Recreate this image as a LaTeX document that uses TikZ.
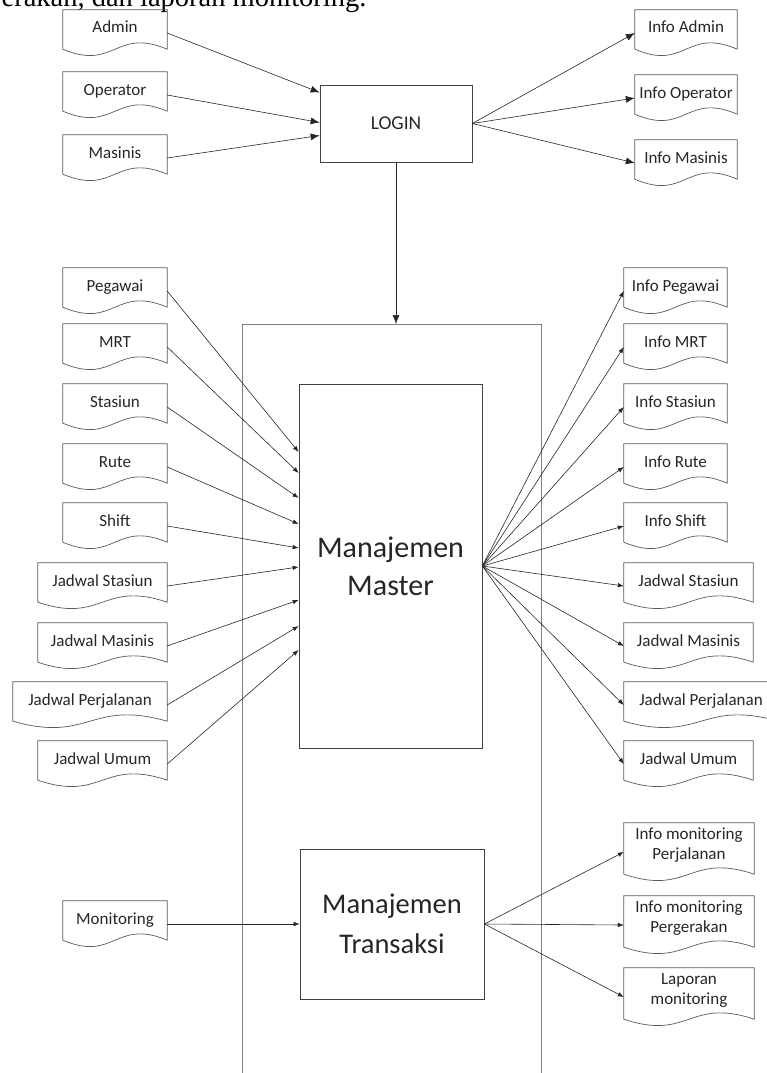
\documentclass[tikz,border=0pt]{standalone}
\usepackage{fontspec}
\setmainfont{Carlito}
\newfontfamily\serifhead{Liberation Serif}
\usetikzlibrary{arrows.meta,calc}

\newcommand\twoline[2]{\begin{tabular}[b]{@{}c@{}}#1\\#2\end{tabular}}

\tikzset{
  doc/.style={rectangle, inner sep=0pt, minimum width=#1, minimum height=46pt,
    text height=6pt, text depth=6pt, text=black!85, font=\fontsize{17}{20}\selectfont},
  doc/.default=104pt,
  doc2/.style={doc=#1, minimum height=58pt, text height=20pt},
  doc2/.default=130pt,
  docline/.style={draw=black!65, line width=0.7pt},
  procbox/.style={draw=black!75, line width=0.7pt, rectangle, inner sep=0pt, align=center,
    text=black!85, font=\fontsize{30}{38}\selectfont},
  flow/.style={draw=black!85, line width=0.6pt, -{Latex[length=6pt,width=4.5pt]}},
  bigflow/.style={flow, -{Latex[length=9pt,width=7pt]}}
}

\begin{document}
\begin{tikzpicture}[x=1pt,y=-1pt]
\useasboundingbox (0,0) rectangle (767,1073);
\clip (0,0) rectangle (767,1073);

\node[anchor=base east, font=\serifhead\fontsize{28.5}{30}\selectfont] (prevline) at (370,7) {erakan, dan laporan monitoring.};

% login
\node[doc] (admin) at (115,33) {Admin};
\node[doc] (operator) at (115,95) {Operator};
\node[doc] (masinis) at (115,158) {Masinis};
\node[procbox, minimum width=152pt, minimum height=77pt, font=\fontsize{19.5}{22}\selectfont] (login) at (396,123.5) {LOGIN};
\node[doc=102pt] (info-admin) at (686,33) {Info Admin};
\node[doc=102pt] (info-operator) at (686,98) {Info Operator};
\node[doc=102pt] (info-masinis) at (686,163) {Info Masinis};

% application frame
\node[draw=black!50, line width=0.7pt, rectangle, inner sep=0pt, minimum width=299pt, minimum height=780pt, anchor=north] (app) at (391.5,324) {};

% master data
\node[doc] (pegawai) at (115,291) {Pegawai};
\node[doc] (mrt) at (115,347) {MRT};
\node[doc] (stasiun) at (115,407) {Stasiun};
\node[doc] (rute) at (115,467) {Rute};
\node[doc] (shift) at (115,526) {Shift};
\node[doc=129pt] (in-jstasiun) at (102.5,586) {Jadwal Stasiun};
\node[doc=129pt] (in-jmasinis) at (102.5,646) {Jadwal Masinis};
\node[doc=154pt] (in-jperjalanan) at (90,705) {Jadwal Perjalanan};
\node[doc=129pt] (in-jumum) at (102.5,764) {Jadwal Umum};

\node[procbox, minimum width=183pt, minimum height=364pt] (master) at (390.5,566) {Manajemen\\Master};

\node[doc=103pt] (info-pegawai) at (675.5,291) {Info Pegawai};
\node[doc=103pt] (info-mrt) at (675.5,347) {Info MRT};
\node[doc=103pt] (info-stasiun) at (675.5,407) {Info Stasiun};
\node[doc=103pt] (info-rute) at (675.5,467) {Info Rute};
\node[doc=103pt] (info-shift) at (675.5,526) {Info Shift};
\node[doc=129pt] (out-jstasiun) at (688.5,586) {Jadwal Stasiun};
\node[doc=129pt] (out-jmasinis) at (688.5,646) {Jadwal Masinis};
\node[doc=154pt] (out-jperjalanan) at (701,705) {Jadwal Perjalanan};
\node[doc=129pt] (out-jumum) at (688.5,764) {Jadwal Umum};

% transaksi
\node[doc] (monitoring) at (115,924) {Monitoring};
\node[procbox, minimum width=184pt, minimum height=150pt, font=\fontsize{28.5}{40}\selectfont] (transaksi) at (392,924) {Manajemen\\Transaksi};
\node[doc2] (info-monperjalanan) at (689,852) {\twoline{Info monitoring}{Perjalanan}};
\node[doc2] (info-monpergerakan) at (689,925) {\twoline{Info monitoring}{Pergerakan}};
\node[doc2] (laporan) at (689,997) {\twoline{Laporan}{monitoring}};

% wavy document outlines
\foreach \d in {admin,operator,masinis,info-admin,info-operator,info-masinis,
    pegawai,mrt,stasiun,rute,shift,in-jstasiun,in-jmasinis,in-jperjalanan,in-jumum,
    info-pegawai,info-mrt,info-stasiun,info-rute,info-shift,
    out-jstasiun,out-jmasinis,out-jperjalanan,out-jumum,
    monitoring,info-monperjalanan,info-monpergerakan,laporan}
  \draw[docline] ([yshift=7pt]\d.south west) -- (\d.north west) -- (\d.north east)
    -- ([yshift=7pt]\d.south east)
    .. controls ($(\d.south)+(0pt,29pt)$) and ($(\d.south)+(0pt,-15pt)$)
    .. ([yshift=7pt]\d.south west);

\foreach \n/\dy in {admin/31,operator/1,masinis/-12}
  \draw[bigflow] (\n.east) -- ([yshift=\dy pt]login.west);
\foreach \n in {info-admin,info-operator,info-masinis}
  \draw[bigflow] (login.east) -- (\n.west);
\draw[bigflow] (login.south) -- (login.south |- app.north);

\foreach \n/\dy in {pegawai/114,mrt/93,stasiun/68,rute/42,shift/18,
    in-jstasiun/-1,in-jmasinis/-34,in-jperjalanan/-60,in-jumum/-84}
  \draw[flow] (\n.east) -- ([yshift=\dy pt]master.west);
\foreach \n in {info-pegawai,info-mrt,info-stasiun,info-rute,info-shift,
    out-jstasiun,out-jmasinis,out-jperjalanan,out-jumum}
  \draw[flow] (master.east) -- (\n.west);

\draw[flow] (monitoring.east) -- (transaksi.west);
\foreach \n in {info-monperjalanan,info-monpergerakan,laporan}
  \draw[flow] (transaksi.east) -- (\n.west);
\end{tikzpicture}
\end{document}
